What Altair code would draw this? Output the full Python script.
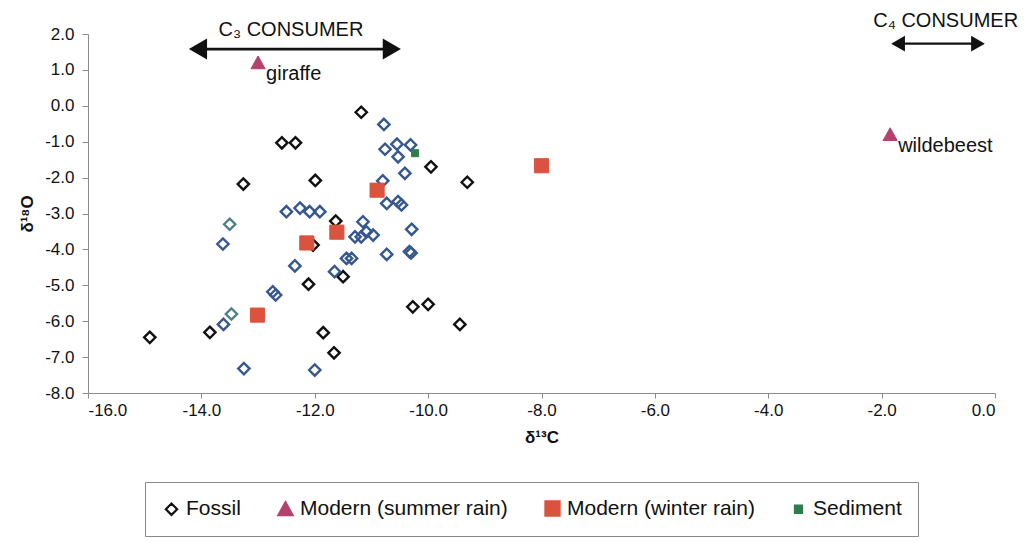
import altair as alt
import pandas as pd

# --- isotope values (δ13C, δ18O) per group ---
fossil_black_c = [-14.91, -13.85, -13.26, -12.58, -12.34, -11.99, -11.18, -9.95, -9.31,
                  -10.27, -10.00, -9.44, -11.85, -12.11, -12.03, -11.63, -11.50, -11.66]
fossil_black_o = [-6.45, -6.31, -2.18, -1.03, -1.03, -2.08, -0.18, -1.70, -2.13,
                  -5.60, -5.53, -6.09, -6.32, -4.97, -3.88, -3.21, -4.76, -6.88]

fossil_blue_c = [-13.25, -12.00, -13.62, -13.61, -12.74, -12.69, -12.35, -11.65, -11.44,
                 -11.35, -12.50, -12.26, -12.09, -11.91, -11.15, -11.09, -11.29, -11.18,
                 -10.97, -10.78, -10.76, -10.55, -10.53, -10.31, -10.41, -10.80, -10.73,
                 -10.53, -10.47, -10.29, -10.73, -10.33, -10.30]
fossil_blue_o = [-7.32, -7.36, -3.85, -6.09, -5.18, -5.27, -4.46, -4.62, -4.25,
                 -4.25, -2.95, -2.85, -2.95, -2.95, -3.23, -3.51, -3.65, -3.65,
                 -3.60, -0.52, -1.21, -1.07, -1.42, -1.09, -1.88, -2.09, -2.72,
                 -2.67, -2.76, -3.44, -4.14, -4.06, -4.10]

fossil_teal_c = [-13.50, -13.47]
fossil_teal_o = [-3.30, -5.80]

summer_c = [-13.00, -1.85]
summer_o = [1.20, -0.80]
summer_names = ["giraffe", "wildebeest"]

winter_c = [-13.01, -12.14, -11.61, -10.90, -8.00]
winter_o = [-5.83, -3.82, -3.52, -2.35, -1.67]

sediment_c = [-10.23]
sediment_o = [-1.32]

# symbol outlines in unit coordinates (all drawn at the same mark size)
DIAMOND = "M-0.8,0L0,-0.8L0.8,0L0,0.8Z"
TRIANGLE = "M0,-0.95L1,0.85L-1,0.85Z"
SQUARE = "M-1,-1L1,-1L1,1L-1,1Z"
SMALL_SQUARE = "M-0.5,-0.5L0.5,-0.5L0.5,0.5L-0.5,0.5Z"
SYMBOL_SIZE = 200

series_names = ["Fossil", "Modern (summer rain)", "Modern (winter rain)", "Sediment"]
series_fill = ["transparent", "#b5416d", "#d9533f", "#2f7d4b"]
series_stroke = ["#111111", "#b5416d", "#d9533f", "#2f7d4b"]
series_shape = [DIAMOND, TRIANGLE, SQUARE, SMALL_SQUARE]

# consumer range annotations
consumer_labels = ["C\u2083 CONSUMER", "C\u2084 CONSUMER"]
consumer_text_c = [-12.42, -0.87]
consumer_text_o = [2.11, 2.36]
arrow_from_c = [-14.06, -1.71]
arrow_to_c = [-10.64, -0.30]
arrow_o = [1.58, 1.73]
arrow_head = [440, 250]
arrow_width = [2.8, 2.2]

FONT = "Liberation Sans, Arial, sans-serif"

x_scale = alt.Scale(domain=[-16, 0], nice=False, zero=False)
y_scale = alt.Scale(domain=[-8, 2], nice=False, zero=False)

lab_expr = "replace(format(datum.value, '.1f'), '\u2212', '-')"
x_axis = alt.Axis(values=list(range(-16, 1, 2)), labelExpr=lab_expr, title="δ¹³C",
                  grid=False, tickSize=5, labelPadding=4, titlePadding=11,
                  labelOverlap=False, domainColor="#8c8c8c", tickColor="#8c8c8c")
y_axis = alt.Axis(values=list(range(-8, 3)), labelExpr=lab_expr, title="δ¹⁸O",
                  grid=False, tickSize=6, labelPadding=8, titlePadding=8,
                  labelOverlap=False, domainColor="#8c8c8c", tickColor="#8c8c8c")

X = alt.X("c:Q", scale=x_scale, axis=x_axis)
Y = alt.Y("o:Q", scale=y_scale, axis=y_axis)

legend = alt.Legend(orient="none", legendX=57, legendY=448, direction="horizontal",
                    title=None, strokeColor="#8a8a8a", padding=16, columnPadding=33,
                    labelFontSize=21, labelFont=FONT, labelColor="#111111",
                    labelOffset=4, symbolStrokeWidth=2.2, symbolSize=SYMBOL_SIZE,
                    labelLimit=400)

def legend_enc(base):
    return base.encode(
        x=X, y=Y,
        shape=alt.Shape("series:N", scale=alt.Scale(domain=series_names, range=series_shape), legend=legend),
        fill=alt.Fill("series:N", scale=alt.Scale(domain=series_names, range=series_fill), legend=legend),
        stroke=alt.Stroke("series:N", scale=alt.Scale(domain=series_names, range=series_stroke), legend=legend),
    )

black_df = pd.DataFrame({"c": fossil_black_c, "o": fossil_black_o, "series": "Fossil"})
tinted_df = pd.concat([
    pd.DataFrame({"c": fossil_blue_c, "o": fossil_blue_o, "tone": "#36588e"}),
    pd.DataFrame({"c": fossil_teal_c, "o": fossil_teal_o, "tone": "#4f8087"}),
])
modern_df = pd.concat([
    pd.DataFrame({"c": summer_c, "o": summer_o, "series": "Modern (summer rain)"}),
    pd.DataFrame({"c": winter_c, "o": winter_o, "series": "Modern (winter rain)"}),
    pd.DataFrame({"c": sediment_c, "o": sediment_o, "series": "Sediment"}),
])
names_df = pd.DataFrame({"c": summer_c, "o": summer_o, "name": summer_names})
consumer_df = pd.DataFrame({"label": consumer_labels, "tc": consumer_text_c, "to": consumer_text_o,
                            "a": arrow_from_c, "b": arrow_to_c, "ao": arrow_o})

black_layer = legend_enc(alt.Chart(black_df).mark_point(size=SYMBOL_SIZE, strokeWidth=2.4, opacity=1))
tinted_layer = alt.Chart(tinted_df).mark_point(shape=DIAMOND, size=SYMBOL_SIZE, filled=False,
                                               strokeWidth=2.4, opacity=1).encode(
    x=X, y=Y, color=alt.Color("tone:N", scale=None, legend=None))
modern_layer = legend_enc(alt.Chart(modern_df).mark_point(size=SYMBOL_SIZE, strokeWidth=1, opacity=1))

name_layer = alt.Chart(names_df).mark_text(align="left", baseline="middle", dx=8, dy=11,
                                           font=FONT, fontSize=20, color="#111111").encode(
    x=X, y=Y, text="name:N")

arrow_layers = []
for i in range(len(consumer_labels)):
    base = alt.Chart(consumer_df.iloc[[i]])
    arrow_layers.append(base.mark_rule(color="#111111", strokeWidth=arrow_width[i]).encode(
        x=alt.X("a:Q", scale=x_scale, axis=x_axis), x2="b:Q",
        y=alt.Y("ao:Q", scale=y_scale, axis=y_axis)))
    arrow_layers.append(base.mark_point(shape="triangle-left", filled=True, color="#111111",
                                        size=arrow_head[i], opacity=1).encode(
        x=alt.X("a:Q", scale=x_scale, axis=x_axis), y=alt.Y("ao:Q", scale=y_scale, axis=y_axis)))
    arrow_layers.append(base.mark_point(shape="triangle-right", filled=True, color="#111111",
                                        size=arrow_head[i], opacity=1).encode(
        x=alt.X("b:Q", scale=x_scale, axis=x_axis), y=alt.Y("ao:Q", scale=y_scale, axis=y_axis)))

consumer_text = alt.Chart(consumer_df).mark_text(align="center", baseline="middle", font=FONT,
                                                 fontSize=20, color="#111111").encode(
    x=alt.X("tc:Q", scale=x_scale, axis=x_axis), y=alt.Y("to:Q", scale=y_scale, axis=y_axis),
    text="label:N")

chart = alt.layer(
    black_layer, tinted_layer, modern_layer, name_layer, *arrow_layers, consumer_text,
).properties(
    width=907, height=359,
    padding={"left": 88, "top": 34, "right": 34, "bottom": 158},
    autosize=alt.AutoSizeParams(type="none"),
    background="white",
).configure_view(stroke=None).configure_axis(
    labelFont=FONT, labelFontSize=17, labelColor="#111111",
    titleFont=FONT, titleFontSize=17, titleFontWeight="bold", titleColor="#111111",
)

chart.save("out.html", embed_options={"renderer": "svg", "actions": False})
